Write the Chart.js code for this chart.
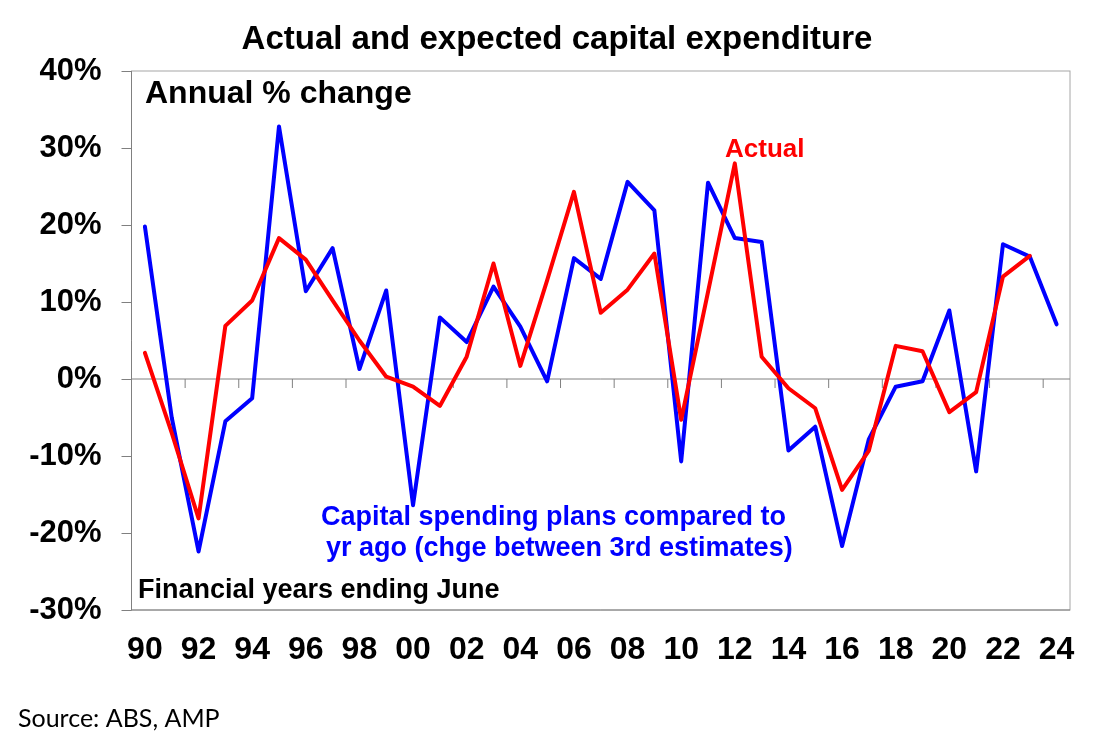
<!DOCTYPE html>
<html>
<head>
<meta charset="utf-8">
<title>Actual and expected capital expenditure</title>
<script src="https://cdn.jsdelivr.net/npm/chart.js@4.4.1/dist/chart.umd.min.js"></script>
<style>
  html, body { margin: 0; padding: 0; background: #fff; }
  #wrap { width: 1109px; height: 749px; position: relative; }
</style>
</head>
<body>
<div id="wrap"><canvas id="capex" width="1109" height="749"></canvas></div>
<script>
// financial years ending June, 1990 .. 2024
const years = [
  "90", "91", "92", "93", "94", "95", "96", "97", "98", "99",
  "00", "01", "02", "03", "04", "05", "06", "07", "08", "09",
  "10", "11", "12", "13", "14", "15", "16", "17", "18", "19",
  "20", "21", "22", "23", "24"
];

// actual capex, annual % change
const actual = [
  3.4, -7.0, -18.1, 6.9, 10.2, 18.3, 15.5, 10.2, 5.0, 0.3,
  -1.0, -3.5, 2.9, 15.0, 1.7, 12.8, 24.3, 8.6, 11.6, 16.3,
  -5.3, 11.3, 28.0, 2.9, -1.2, -3.8, -14.4, -9.3, 4.3, 3.6,
  -4.3, -1.7, 13.3, 16.0, null
];

// spending plans vs a year ago (3rd estimates)
const plans = [
  19.8, -5.0, -22.4, -5.5, -2.5, 32.8, 11.4, 17.0, 1.3, 11.5,
  -16.4, 8.0, 4.8, 12.0, 6.8, -0.3, 15.7, 13.0, 25.6, 21.9,
  -10.7, 25.5, 18.3, 17.8, -9.3, -6.2, -21.7, -7.8, -1.0, -0.3,
  8.9, -12.0, 17.5, 15.9, 7.1
];

const yTicks = [-30, -20, -10, 0, 10, 20, 30, 40];

const FONT = "'Liberation Sans', Arial, sans-serif";

// frame, zero line and the little ticks hanging off it
const framePlugin = {
  id: "frame",
  beforeDatasetsDraw(chart) {
    const { ctx, chartArea: a, scales } = chart;
    const y0 = scales.y.getPixelForValue(0);
    ctx.save();
    ctx.lineWidth = 1;
    ctx.strokeStyle = "#a6a6a6";
    ctx.strokeRect(a.left, a.top, a.right - a.left, a.bottom - a.top);
    ctx.strokeStyle = "#808080";
    ctx.beginPath();
    ctx.moveTo(a.left, a.top);
    ctx.lineTo(a.left, a.bottom);
    ctx.lineTo(a.right, a.bottom);
    ctx.moveTo(a.left, y0);
    ctx.lineTo(a.right, y0);
    for (let i = 2; i < years.length; i += 2) {
      const x = (scales.x.getPixelForValue(i - 1) + scales.x.getPixelForValue(i)) / 2;
      ctx.moveTo(x, y0);
      ctx.lineTo(x, y0 + 9);
    }
    ctx.stroke();
    ctx.restore();
  },
  afterDraw(chart) {
    const ctx = chart.ctx;
    ctx.save();
    ctx.textBaseline = "alphabetic";

    ctx.fillStyle = "#000";
    ctx.font = "bold 33px " + FONT;
    ctx.textAlign = "center";
    ctx.fillText("Actual and expected capital expenditure", 557, 49);

    ctx.textAlign = "left";
    ctx.font = "bold 32px " + FONT;
    ctx.fillText("Annual % change", 145, 103);

    ctx.font = "bold 27px " + FONT;
    ctx.fillText("Financial years ending June", 138, 598);

    ctx.font = "bold 26px " + FONT;
    ctx.fillStyle = "#ff0000";
    ctx.fillText("Actual", 725, 157);

    ctx.fillStyle = "#0000ff";
    ctx.font = "bold 27px " + FONT;
    ctx.fillText("Capital spending plans compared to", 321, 525);
    ctx.fillText("yr ago (chge between 3rd estimates)", 326, 556);

    ctx.fillStyle = "#000";
    ctx.font = "25px Lato, 'Open Sans', sans-serif";
    ctx.fillText("Source: ABS, AMP", 18, 727);
    ctx.restore();
  }
};

const ctx = document.getElementById("capex").getContext("2d");

new Chart(ctx, {
  type: "line",
  data: {
    labels: years,
    datasets: [
      {
        label: "Actual",
        data: actual,
        borderColor: "#ff0000",
        borderWidth: 4,
        borderJoinStyle: "round",
        borderCapStyle: "round",
        pointRadius: 0,
        tension: 0,
        spanGaps: false
      },
      {
        label: "Capital spending plans",
        data: plans,
        borderColor: "#0000ff",
        borderWidth: 4,
        borderJoinStyle: "round",
        borderCapStyle: "round",
        pointRadius: 0,
        tension: 0
      }
    ]
  },
  options: {
    responsive: false,
    animation: false,
    events: [],
    layout: { padding: { top: 71, right: 39, bottom: 79, left: 0 } },
    plugins: {
      legend: { display: false },
      title: { display: false },
      tooltip: { enabled: false }
    },
    scales: {
      x: {
        offset: true,
        grid: { display: false, drawTicks: false },
        border: { display: false },
        afterFit: (s) => { s.height = 60; },
        ticks: {
          autoSkip: false,
          maxRotation: 0,
          padding: 21,
          color: "#000",
          font: { family: FONT, size: 32, weight: "bold" },
          callback: (v, i) => (i % 2 === 0 ? years[i] : "")
        }
      },
      y: {
        min: yTicks[0],
        max: yTicks[yTicks.length - 1],
        afterFit: (s) => { s.width = 131.5; },
        afterBuildTicks: (s) => { s.ticks = yTicks.map((v) => ({ value: v })); },
        grid: {
          drawOnChartArea: false,
          tickLength: 10,
          color: "#808080"
        },
        border: { display: false },
        ticks: {
          padding: 20,
          color: "#000",
          font: { family: FONT, size: 31, weight: "bold" },
          callback: (v) => v + "%"
        }
      }
    }
  },
  plugins: [framePlugin]
});
</script>
</body>
</html>
